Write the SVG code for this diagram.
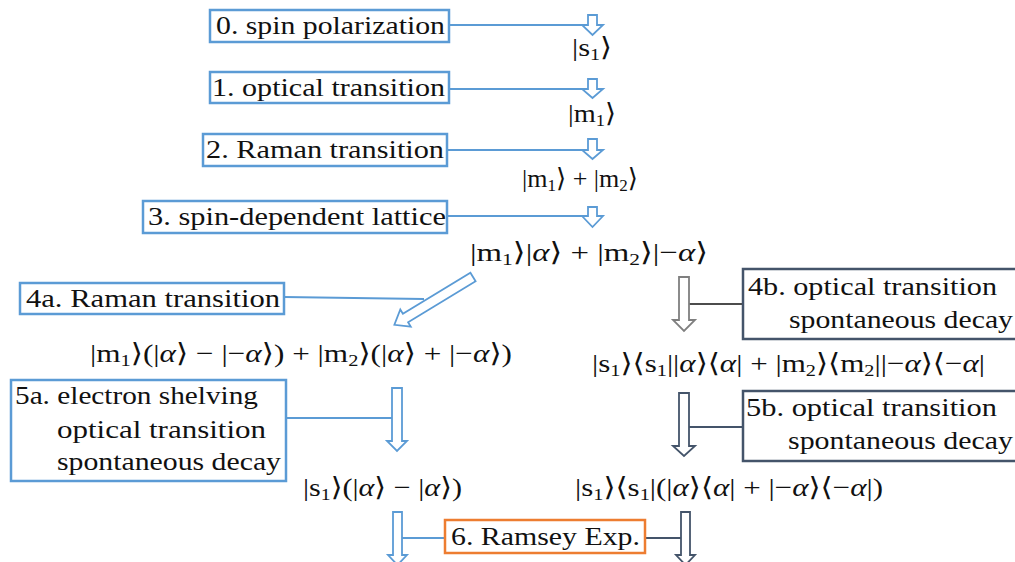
<svg xmlns="http://www.w3.org/2000/svg" width="1015" height="562" viewBox="0 0 1015 562">
<style>
text{font-family:"Liberation Serif","DejaVu Serif","DejaVu Sans",serif;font-size:26px;fill:#111}
.bb{fill:#fff;stroke:#5B9BD5;stroke-width:2.5}
.bd{fill:#fff;stroke:#44546A;stroke-width:2.5}
.bo{fill:#fff;stroke:#ED7D31;stroke-width:2.5}
.ab{fill:#fff;stroke:#5B9BD5;stroke-width:1.8}
.ad{fill:#fff;stroke:#44546A;stroke-width:1.8}
.ag{fill:#fff;stroke:#7F7F7F;stroke-width:1.8}
.lb{stroke:#5B9BD5;stroke-width:1.8;fill:none}
.ld{stroke:#44546A;stroke-width:1.8;fill:none}
.lk{stroke:#111;stroke-width:1.6;fill:none}
.s{font-size:17px}
.i{font-style:italic}
</style>

<g id="connectors">
  <line class="lb" x1="449" y1="25" x2="583" y2="25"/>
  <line class="lb" x1="449" y1="89" x2="583" y2="89"/>
  <line class="lb" x1="447" y1="150" x2="583" y2="150"/>
  <line class="lb" x1="447" y1="216" x2="583" y2="216"/>
  <line class="lb" x1="284" y1="297" x2="424" y2="299"/>
  <line class="lk" x1="689" y1="304" x2="743" y2="304"/>
  <line class="lb" x1="286" y1="418" x2="392" y2="418"/>
  <line class="ld" x1="689" y1="427" x2="743" y2="427"/>
  <line class="lb" x1="402" y1="538" x2="445" y2="538"/>
  <line class="ld" x1="645" y1="538" x2="681" y2="538"/>
  <path class="ab" d="M588,15 H597 V25 H603 L592.5,35 L582,25 H588 Z"/>
  <path class="ab" d="M588,79 H597 V89 H603 L592.5,98 L582,89 H588 Z"/>
  <path class="ab" d="M588,139 H597 V150 H603 L592.5,159 L582,150 H588 Z"/>
  <path class="ab" d="M588,207 H597 V216 H603 L592.5,227 L582,216 H588 Z"/>
  <path class="ab" transform="translate(473,277) rotate(58.7)" d="M-5,0 H5 V79 H10 L0,92 L-10,79 H-5 Z"/>
  <path class="ag" d="M679,277 H689 V320 H695 L684,331 L673,320 H679 Z"/>
  <path class="ab" d="M392,388 H402 V441 H407 L397,451 L387,441 H392 Z"/>
  <path class="ad" d="M679,393 H689 V446 H695 L684,456 L673,446 H679 Z"/>
  <path class="ab" d="M393,512 H402 V555 H407 L397.5,565 L388,555 H393 Z"/>
  <path class="ad" d="M681,512 H690 V555 H695 L685.5,565 L676,555 H681 Z"/>
</g>

<g id="step0">
  <rect class="bb" x="210" y="10" width="239" height="32"/>
  <text x="216" y="34" textLength="229" lengthAdjust="spacingAndGlyphs">0. spin polarization</text>
</g>
<g id="step1">
  <rect class="bb" x="210" y="72" width="239" height="31"/>
  <text x="212" y="96" textLength="233" lengthAdjust="spacingAndGlyphs">1. optical transition</text>
</g>
<g id="step2">
  <rect class="bb" x="203" y="134" width="244" height="32"/>
  <text x="206" y="158" textLength="238" lengthAdjust="spacingAndGlyphs">2. Raman transition</text>
</g>
<g id="step3">
  <rect class="bb" x="143" y="201" width="304" height="32"/>
  <text x="148" y="225" textLength="298" lengthAdjust="spacingAndGlyphs">3. spin-dependent lattice</text>
</g>
<g id="step4a">
  <rect class="bb" x="20" y="283" width="264" height="31"/>
  <text x="26" y="307" textLength="254" lengthAdjust="spacingAndGlyphs">4a. Raman transition</text>
</g>
<g id="step4b">
  <rect class="bd" x="743" y="269" width="274" height="70"/>
  <text x="748" y="295" textLength="249" lengthAdjust="spacingAndGlyphs">4b. optical transition</text>
  <text x="789" y="328" textLength="224" lengthAdjust="spacingAndGlyphs">spontaneous decay</text>
</g>
<g id="step5a">
  <rect class="bb" x="11" y="380" width="275" height="101"/>
  <text x="15" y="404" textLength="243" lengthAdjust="spacingAndGlyphs">5a. electron shelving</text>
  <text x="57" y="438" textLength="209" lengthAdjust="spacingAndGlyphs">optical transition</text>
  <text x="57" y="470" textLength="224" lengthAdjust="spacingAndGlyphs">spontaneous decay</text>
</g>
<g id="step5b">
  <rect class="bd" x="743" y="391" width="274" height="70"/>
  <text x="746" y="416" textLength="251" lengthAdjust="spacingAndGlyphs">5b. optical transition</text>
  <text x="788" y="449" textLength="225" lengthAdjust="spacingAndGlyphs">spontaneous decay</text>
</g>
<g id="step6">
  <rect class="bo" x="445" y="520" width="200" height="33"/>
  <text x="451" y="545" textLength="189" lengthAdjust="spacingAndGlyphs">6. Ramsey Exp.</text>
</g>

<g id="state-s1">
  <text x="572" y="56" textLength="40" lengthAdjust="spacingAndGlyphs">|s<tspan class="s" dy="4">1</tspan><tspan dy="-4">⟩</tspan></text>
</g>
<g id="state-m1">
  <text x="568" y="122" textLength="48" lengthAdjust="spacingAndGlyphs">|m<tspan class="s" dy="4">1</tspan><tspan dy="-4">⟩</tspan></text>
</g>
<g id="state-m1m2">
  <text x="522" y="187" textLength="116" lengthAdjust="spacingAndGlyphs">|m<tspan class="s" dy="4">1</tspan><tspan dy="-4">⟩ + |m</tspan><tspan class="s" dy="4">2</tspan><tspan dy="-4">⟩</tspan></text>
</g>
<g id="state-lattice">
  <text x="470" y="261" textLength="238" lengthAdjust="spacingAndGlyphs">|m<tspan class="s" dy="4">1</tspan><tspan dy="-4">⟩|</tspan><tspan class="i">α</tspan>⟩ + |m<tspan class="s" dy="4">2</tspan><tspan dy="-4">⟩|−</tspan><tspan class="i">α</tspan>⟩</text>
</g>
<g id="state-4a">
  <text x="90" y="362" textLength="422" lengthAdjust="spacingAndGlyphs">|m<tspan class="s" dy="4">1</tspan><tspan dy="-4">⟩(|</tspan><tspan class="i">α</tspan>⟩ − |−<tspan class="i">α</tspan>⟩) + |m<tspan class="s" dy="4">2</tspan><tspan dy="-4">⟩(|</tspan><tspan class="i">α</tspan>⟩ + |−<tspan class="i">α</tspan>⟩)</text>
</g>
<g id="state-4b">
  <text x="592" y="372" textLength="393" lengthAdjust="spacingAndGlyphs">|s<tspan class="s" dy="4">1</tspan><tspan dy="-4">⟩⟨s</tspan><tspan class="s" dy="4">1</tspan><tspan dy="-4">||</tspan><tspan class="i">α</tspan>⟩⟨<tspan class="i">α</tspan>| + |m<tspan class="s" dy="4">2</tspan><tspan dy="-4">⟩⟨m</tspan><tspan class="s" dy="4">2</tspan><tspan dy="-4">||−</tspan><tspan class="i">α</tspan>⟩⟨−<tspan class="i">α</tspan>|</text>
</g>
<g id="state-5a">
  <text x="303" y="496" textLength="159" lengthAdjust="spacingAndGlyphs">|s<tspan class="s" dy="4">1</tspan><tspan dy="-4">⟩(|</tspan><tspan class="i">α</tspan>⟩ − |<tspan class="i">α</tspan>⟩)</text>
</g>
<g id="state-5b">
  <text x="575" y="496" textLength="308" lengthAdjust="spacingAndGlyphs">|s<tspan class="s" dy="4">1</tspan><tspan dy="-4">⟩⟨s</tspan><tspan class="s" dy="4">1</tspan><tspan dy="-4">|(|</tspan><tspan class="i">α</tspan>⟩⟨<tspan class="i">α</tspan>| + |−<tspan class="i">α</tspan>⟩⟨−<tspan class="i">α</tspan>|)</text>
</g>
</svg>
